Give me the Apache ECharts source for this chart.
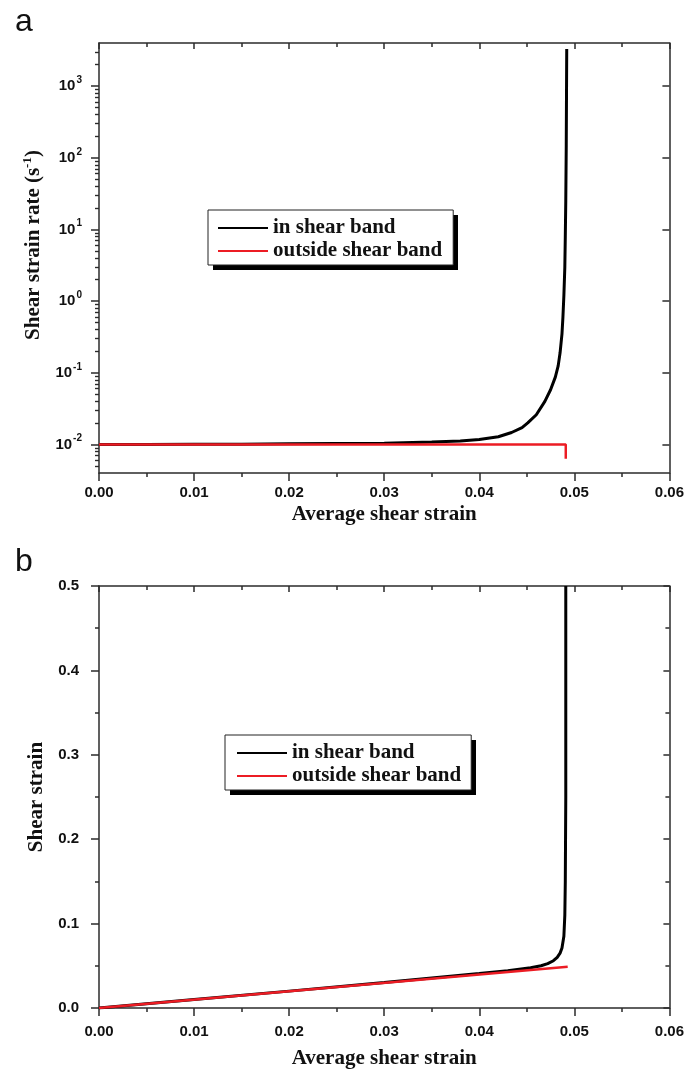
<!DOCTYPE html>
<html><head><meta charset="utf-8">
<script src="https://cdn.jsdelivr.net/npm/echarts@6/dist/echarts.min.js"></script>
<style>html,body{margin:0;padding:0;background:#fff}#c{width:687px;height:1075px}</style>
</head><body><div id="c"></div>
<script>
// ---------- data ----------
const seriesNames = ['in shear band', 'outside shear band'];

// panel a : shear strain rate (s^-1) vs average shear strain
const rateInBandX = [0, 0.005, 0.010, 0.015, 0.020, 0.025, 0.030, 0.035, 0.038, 0.040, 0.042, 0.0434, 0.0445, 0.0451, 0.0460, 0.0469, 0.0475, 0.0480, 0.0483, 0.0485, 0.0487, 0.0488, 0.0489, 0.0490, 0.04905, 0.0491, 0.04915, 0.0492];
const rateInBandY = [0.0100, 0.0100, 0.0101, 0.0101, 0.0102, 0.0103, 0.0104, 0.0108, 0.0112, 0.0117, 0.0128, 0.0147, 0.0172, 0.0200, 0.026, 0.040, 0.058, 0.087, 0.125, 0.19, 0.35, 0.6, 1.2, 3, 8, 25, 150, 3300];
const rateOutBandX = [0, 0.0491, 0.0491];
const rateOutBandY = [0.01, 0.01, 0.0063];

// panel b : shear strain vs average shear strain
const strainInBandX = [0, 0.010, 0.020, 0.030, 0.035, 0.040, 0.043, 0.0454, 0.0465, 0.0472, 0.0478, 0.0482, 0.0485, 0.0487, 0.0489, 0.0490, 0.04905, 0.0491, 0.0491];
const strainInBandY = [0, 0.0100, 0.0200, 0.0301, 0.0355, 0.0408, 0.0442, 0.0478, 0.0500, 0.0525, 0.0560, 0.0600, 0.0650, 0.0710, 0.085, 0.110, 0.15, 0.25, 0.5];
const strainOutBandX = [0, 0.0493];
const strainOutBandY = [0, 0.0490];

// ticks
const logMajorTicks = [0.01, 0.1, 1, 10, 100, 1000];
const logMinorMultipliers = [2, 3, 4, 5, 6, 7, 8, 9];
const logRange = [0.004, 4000];
const xRange = [0, 0.06];
const xStep = 0.01;
const strainRange = [0, 0.5];
const strainStep = 0.1;

// ---------- helpers ----------
const zip = (xs, ys) => xs.map((x, i) => [x, ys[i]]);
const logMinorTicks = [];
[-3, -2, -1, 0, 1, 2, 3].forEach(k => logMinorMultipliers.forEach(m => {
  const v = +(m * Math.pow(10, k)).toPrecision(6);
  if (v > logRange[0] && v < logRange[1]) logMinorTicks.push(v);
}));

const AX = '#2b2b2b';
const RED = '#ec1c24';
const LABEL = {fontFamily: '"Liberation Sans", Arial, sans-serif', fontWeight: 'bold', fontSize: 15, color: '#111'};
const TITLE = {fontFamily: '"Liberation Serif", "Times New Roman", serif', fontWeight: 'bold', fontSize: 21, color: '#111'};
const line = {show: true, onZero: false, lineStyle: {color: AX, width: 1.5}};

function xAxes(grid, gap, margin) {
  const base = {gridIndex: grid, type: 'value', min: xRange[0], max: xRange[1], interval: xStep,
    splitLine: {show: false}, minorSplitLine: {show: false}, axisLine: line};
  return [
    Object.assign({}, base, {position: 'bottom',
      axisTick: {show: true, length: 8, lineStyle: {color: AX, width: 1.5}},
      minorTick: {show: true, splitNumber: 2, length: 4, lineStyle: {color: AX, width: 1.5}},
      axisLabel: Object.assign({}, LABEL, {margin: margin, formatter: v => v.toFixed(2)}),
      name: 'Average shear strain', nameLocation: 'middle', nameGap: gap, nameTextStyle: TITLE}),
    Object.assign({}, base, {position: 'top',
      axisTick: {show: true, inside: true, length: 6, lineStyle: {color: AX, width: 1.5}},
      minorTick: {show: true, splitNumber: 2, length: 4, lineStyle: {color: AX, width: 1.5}},
      axisLabel: {show: false}})
  ];
}

function legendBox(left, top, padding) {
  return {data: seriesNames, orient: 'vertical', align: 'left', left: left, top: top, icon: 'rect', z: 6,
    itemWidth: 50, itemHeight: 2, itemGap: 1, padding: padding,
    backgroundColor: '#fff', borderColor: '#222', borderWidth: 1,
    textStyle: Object.assign({}, TITLE, {lineHeight: 22})};
}

const logBase = {gridIndex: 0, type: 'log', logBase: 10, min: logRange[0], max: logRange[1],
  splitLine: {show: false}, minorSplitLine: {show: false}};

const option = {
  animation: false,
  backgroundColor: '#fff',
  grid: [
    {left: 99, top: 43, width: 573, height: 430},
    {left: 99, top: 586, width: 573, height: 422}
  ],
  graphic: [
    {type: 'text', x: 15, y: 22, style: {text: 'a', fontSize: 32, fontFamily: '"Liberation Sans", Arial, sans-serif', fill: '#111', verticalAlign: 'middle'}},
    {type: 'text', x: 15, y: 562, style: {text: 'b', fontSize: 32, fontFamily: '"Liberation Sans", Arial, sans-serif', fill: '#111', verticalAlign: 'middle'}},
    // hard drop shadows behind the legend boxes
    {type: 'rect', z: 5, shape: {x: 213, y: 215, width: 245, height: 55}, style: {fill: '#000'}},
    {type: 'rect', z: 5, shape: {x: 230, y: 740, width: 246, height: 55}, style: {fill: '#000'}}
  ],
  legend: [
    legendBox(208, 210, [7, 11, 3, 10]),
    legendBox(225, 735, [7, 10, 3, 12])
  ],
  xAxis: [].concat(xAxes(0, 31, 12), xAxes(1, 40, 16)),
  yAxis: [
    Object.assign({}, logBase, {position: 'left', axisLine: line,
      axisTick: {show: true, length: 8, customValues: logMajorTicks, lineStyle: {color: AX, width: 1.5}},
      axisLabel: Object.assign({}, LABEL, {margin: 17, customValues: logMajorTicks,
        formatter: v => '{b|10}{s|' + Math.round(Math.log10(v)) + '}',
        rich: {b: Object.assign({}, LABEL), s: Object.assign({}, LABEL, {fontSize: 10, padding: [0, 0, 12, 1]})}}),
      name: '{t|Shear strain rate (s}{u|-1}{t|)}', nameLocation: 'middle', nameGap: 52,
      nameTextStyle: Object.assign({}, TITLE, {padding: [0, 0, 0, 26],
        rich: {t: Object.assign({}, TITLE), u: Object.assign({}, TITLE, {fontSize: 13, padding: [0, 0, 12, 0]})}})}),
    Object.assign({}, logBase, {position: 'left', axisLine: {show: false},
      axisTick: {show: true, length: 4, customValues: logMinorTicks, lineStyle: {color: AX, width: 1.2}},
      axisLabel: {show: false}}),
    Object.assign({}, logBase, {position: 'right', axisLine: line,
      axisTick: {show: true, inside: true, length: 7, customValues: logMajorTicks, lineStyle: {color: AX, width: 1.5}},
      axisLabel: {show: false}}),
    Object.assign({}, logBase, {position: 'right', axisLine: {show: false},
      axisTick: {show: true, inside: true, length: 4, customValues: logMinorTicks, lineStyle: {color: AX, width: 1.2}},
      axisLabel: {show: false}}),
    {gridIndex: 1, type: 'value', position: 'left', min: strainRange[0], max: strainRange[1], interval: strainStep,
      axisLine: line, splitLine: {show: false}, minorSplitLine: {show: false},
      axisTick: {show: true, length: 8, lineStyle: {color: AX, width: 1.5}},
      minorTick: {show: true, splitNumber: 2, length: 4, lineStyle: {color: AX, width: 1.5}},
      axisLabel: Object.assign({}, LABEL, {margin: 20, formatter: v => v.toFixed(1)}),
      name: 'Shear strain', nameLocation: 'middle', nameGap: 52, nameTextStyle: TITLE},
    {gridIndex: 1, type: 'value', position: 'right', min: strainRange[0], max: strainRange[1], interval: strainStep,
      axisLine: line, splitLine: {show: false}, minorSplitLine: {show: false},
      axisTick: {show: true, inside: true, length: 6, lineStyle: {color: AX, width: 1.5}},
      minorTick: {show: true, splitNumber: 2, length: 4, lineStyle: {color: AX, width: 1.5}},
      axisLabel: {show: false}}
  ],
  series: [
    {name: seriesNames[0], type: 'line', xAxisIndex: 0, yAxisIndex: 0, data: zip(rateInBandX, rateInBandY),
     showSymbol: false, symbol: 'none', itemStyle: {color: '#000'}, lineStyle: {color: '#000', width: 3}},
    {name: seriesNames[1], type: 'line', xAxisIndex: 0, yAxisIndex: 0, data: zip(rateOutBandX, rateOutBandY),
     showSymbol: false, symbol: 'none', itemStyle: {color: RED}, lineStyle: {color: RED, width: 2.5}},
    {name: seriesNames[0], type: 'line', xAxisIndex: 2, yAxisIndex: 4, data: zip(strainInBandX, strainInBandY),
     showSymbol: false, symbol: 'none', itemStyle: {color: '#000'}, lineStyle: {color: '#000', width: 3}},
    {name: seriesNames[1], type: 'line', xAxisIndex: 2, yAxisIndex: 4, data: zip(strainOutBandX, strainOutBandY),
     showSymbol: false, symbol: 'none', itemStyle: {color: RED}, lineStyle: {color: RED, width: 2.5}}
  ]
};
const chart = echarts.init(document.getElementById('c'), null, {renderer: 'canvas'});
chart.setOption(option);
</script></body></html>
